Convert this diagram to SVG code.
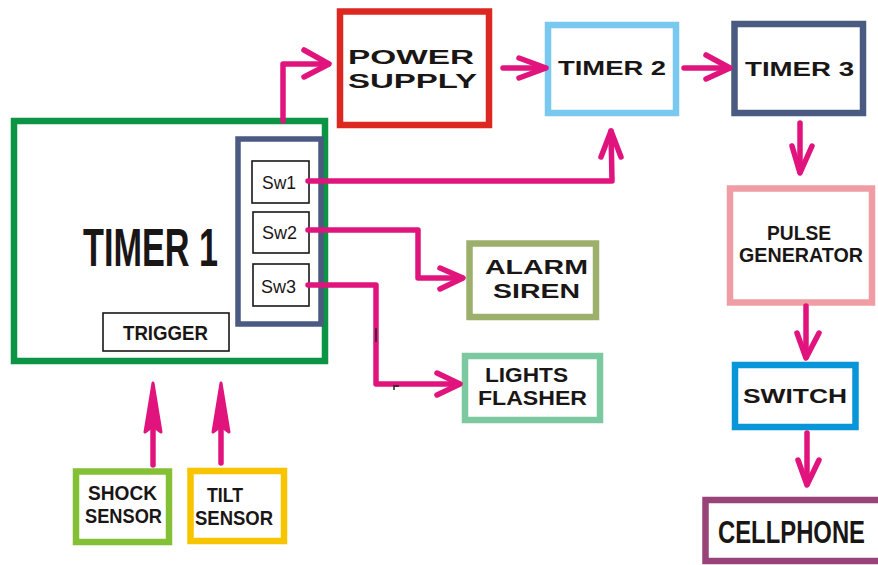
<svg xmlns="http://www.w3.org/2000/svg" width="878" height="565" viewBox="0 0 878 565">
<style>
.box{fill:#fff;stroke-width:6.5}
.sw{fill:#fff;stroke:#1a1616;stroke-width:1.6}
text{font-family:"Liberation Sans",Arial,sans-serif;fill:#1a1616;font-weight:bold}
.reg{font-weight:normal}
.w{font-size:21px}
.m{font-size:20px}
.c{stroke:#e0147c;stroke-width:5.5;fill:none;stroke-linecap:round;stroke-linejoin:round}
.h{stroke:#e0147c;stroke-width:5.5;fill:none;stroke-linecap:round;stroke-linejoin:round}
.fh{stroke:#e0147c;stroke-width:3;fill:#e0147c;stroke-linejoin:round}
.tick{stroke:#222;stroke-width:1.5;fill:none}
</style>
<rect width="878" height="565" fill="#fff"/>

<g id="timer1">
  <rect class="box" x="14" y="121" width="311" height="240" stroke="#0b9444"/>
  <text x="83" y="266" font-size="54" textLength="135" lengthAdjust="spacingAndGlyphs">TIMER 1</text>
</g>
<g id="switchbank">
  <rect x="238" y="139" width="83" height="185" fill="#fff" stroke="#4a5a80" stroke-width="5.5"/>
</g>
<g id="sw1">
  <rect class="sw" x="252" y="161" width="57" height="42"/>
  <text class="reg" x="262" y="189" font-size="18" textLength="34" lengthAdjust="spacingAndGlyphs">Sw1</text>
</g>
<g id="sw2">
  <rect class="sw" x="253" y="212" width="56" height="41"/>
  <text class="reg" x="262" y="239" font-size="18" textLength="35" lengthAdjust="spacingAndGlyphs">Sw2</text>
</g>
<g id="sw3">
  <rect class="sw" x="253" y="264" width="56" height="42"/>
  <text class="reg" x="261" y="293" font-size="18" textLength="35" lengthAdjust="spacingAndGlyphs">Sw3</text>
</g>
<g id="trigger">
  <rect class="sw" x="103" y="313" width="126" height="38"/>
  <text x="123" y="340" font-size="20" textLength="85" lengthAdjust="spacingAndGlyphs">TRIGGER</text>
</g>

<g id="power-supply">
  <rect class="box" x="340" y="11.5" width="149" height="113.5" stroke="#dc2820"/>
  <text class="w" x="348" y="64" textLength="126" lengthAdjust="spacingAndGlyphs">POWER</text>
  <text class="w" x="348" y="88" textLength="129" lengthAdjust="spacingAndGlyphs">SUPPLY</text>
</g>
<g id="timer2">
  <rect class="box" x="548" y="25" width="128" height="88" stroke="#78c8f0"/>
  <text class="w" x="558" y="75" textLength="108" lengthAdjust="spacingAndGlyphs">TIMER 2</text>
</g>
<g id="timer3">
  <rect class="box" x="734.5" y="24" width="128.5" height="89" stroke="#4a5a80"/>
  <text class="w" x="745" y="76" textLength="109" lengthAdjust="spacingAndGlyphs">TIMER 3</text>
</g>
<g id="alarm-siren">
  <rect class="box" x="469.5" y="243.5" width="126.5" height="73.5" stroke="#9cb06c"/>
  <text class="m" x="485" y="274" textLength="103" lengthAdjust="spacingAndGlyphs">ALARM</text>
  <text class="m" x="493" y="298" textLength="87" lengthAdjust="spacingAndGlyphs">SIREN</text>
</g>
<g id="lights-flasher">
  <rect class="box" x="465" y="356" width="135" height="64" stroke="#7cc8a0"/>
  <text class="m" x="485" y="382" textLength="83" lengthAdjust="spacingAndGlyphs">LIGHTS</text>
  <text class="m" x="478" y="405" textLength="109" lengthAdjust="spacingAndGlyphs">FLASHER</text>
</g>
<g id="shock-sensor">
  <rect class="box" x="76" y="471.5" width="93" height="70.5" stroke="#84c035"/>
  <text x="88" y="500" font-size="21" textLength="69" lengthAdjust="spacingAndGlyphs">SHOCK</text>
  <text x="85" y="523" font-size="21" textLength="77" lengthAdjust="spacingAndGlyphs">SENSOR</text>
</g>
<g id="tilt-sensor">
  <rect class="box" x="190.5" y="471" width="93.5" height="70" stroke="#f8c400"/>
  <text x="207" y="502" font-size="21" textLength="36" lengthAdjust="spacingAndGlyphs">TILT</text>
  <text x="195" y="525" font-size="21" textLength="78" lengthAdjust="spacingAndGlyphs">SENSOR</text>
</g>
<g id="pulse-generator">
  <rect class="box" x="730" y="188.5" width="142" height="114" stroke="#f09ca4"/>
  <text x="767" y="240" font-size="21" textLength="64" lengthAdjust="spacingAndGlyphs">PULSE</text>
  <text x="739" y="262" font-size="21" textLength="124" lengthAdjust="spacingAndGlyphs">GENERATOR</text>
</g>
<g id="switch">
  <rect class="box" x="735" y="365" width="120.5" height="62" stroke="#0896d8"/>
  <text x="743" y="403" font-size="20" textLength="104" lengthAdjust="spacingAndGlyphs">SWITCH</text>
</g>
<g id="cellphone">
  <rect class="box" x="705.5" y="500" width="190" height="61" stroke="#984478"/>
  <text x="718" y="543" font-size="32" textLength="147" lengthAdjust="spacingAndGlyphs">CELLPHONE</text>
</g>

<g id="connectors">
  <!-- Timer1 -> Power supply -->
  <polyline class="c" points="283,121 283,64 328,64"/>
  <polyline class="h" points="304,50 329,64 304,77"/>
  <!-- Power -> Timer2 -->
  <line class="c" x1="503" y1="68" x2="545" y2="68"/>
  <polyline class="h" points="519,58 546,68 519,78"/>
  <!-- Timer2 -> Timer3 -->
  <line class="c" x1="684" y1="68" x2="729" y2="68"/>
  <polyline class="h" points="706,55 730,68 706,79"/>
  <!-- Timer3 -> Pulse -->
  <line class="c" x1="800" y1="123" x2="800" y2="172"/>
  <polyline class="h" points="792,146 800,173 812,146"/>
  <!-- Pulse -> Switch -->
  <line class="c" x1="806" y1="306" x2="806" y2="357"/>
  <polyline class="h" points="797,333 806,358 819,333"/>
  <!-- Switch -> Cellphone -->
  <line class="c" x1="807" y1="433" x2="807" y2="484"/>
  <polyline class="h" points="798,460 807,485 819,460"/>
  <!-- Sw1 -> Timer2 -->
  <polyline class="c" points="308,181 612,181 611,131"/>
  <polyline class="h" points="601,157 611,131 621,157"/>
  <!-- Sw2 -> Alarm -->
  <polyline class="c" points="308,230 418,230 418,278 462,278"/>
  <polyline class="h" points="440,268 463,278 440,289"/>
  <!-- Sw3 -> Lights -->
  <polyline class="c" points="308,285 376,285 376,384 459,384"/>
  <polyline class="h" points="437,373 460,384 437,395"/>
  <line class="tick" x1="376" y1="328" x2="376" y2="342"/>
  <polyline class="tick" points="394,390 394,386 399,386"/>
  <!-- Shock -> Timer1 -->
  <line class="c" x1="153" y1="465" x2="153" y2="420"/>
  <polygon class="fh" points="145,432 153,383 161,432 153,426"/>
  <!-- Tilt -> Timer1 -->
  <line class="c" x1="221" y1="463" x2="221" y2="420"/>
  <polygon class="fh" points="213,432 221,383 229,432 221,426"/>
</g>
</svg>
